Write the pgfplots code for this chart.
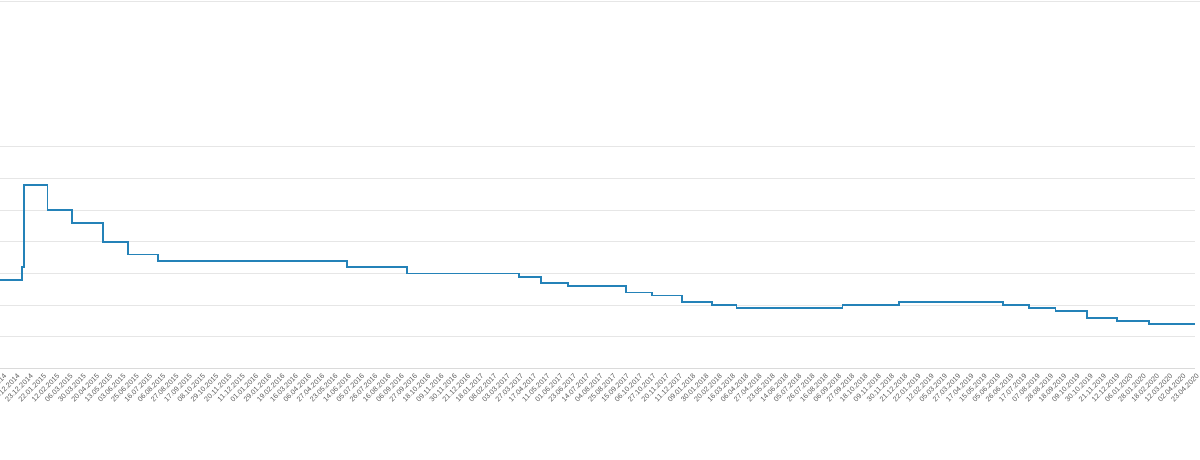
\documentclass[border=0pt]{standalone}
\usepackage{fontspec}
\setmainfont{Liberation Sans}
\usepackage{pgfplots}
\pgfplotsset{compat=1.18}
\usepackage{pgfplotstable}
\definecolor{linec}{RGB}{36,130,184}
\definecolor{gridc}{RGB}{230,230,230}
\definecolor{basec}{RGB}{218,218,218}
\definecolor{labc}{RGB}{90,90,90}
\pgfplotstableread{
x y
-3 9.5
22 10.5
24 17
51 15
79 14
114 12.5
142 11.5
176 11
390 10.5
458 10
585 9.75
610 9.25
640 9
706 8.5
735 8.25
769 7.75
803 7.5
831 7.25
951 7.5
1015 7.75
1133 7.5
1162 7.25
1192 7
1228 6.5
1262 6.25
1298 6
1350 6
}\ratedata
\begin{document}
\begin{tikzpicture}
\begin{axis}[
 at={(0pt,0pt)}, anchor=south west,
 scale only axis, width=1195pt, height=221.3pt,
 xmin=-2.8, xmax=1350, ymin=2.5, ymax=20,
 ytick={2.5,5,...,20}, yticklabels={},
 ymajorgrids, grid style={gridc, line width=1pt},
 xtick={0,15,...,1350},
 xticklabels={11.11.2014, 02.12.2014, 23.12.2014, 22.01.2015, 12.02.2015, 06.03.2015, 30.03.2015, 20.04.2015, 13.05.2015, 03.06.2015, 25.06.2015, 16.07.2015, 06.08.2015, 27.08.2015, 17.09.2015, 08.10.2015, 29.10.2015, 20.11.2015, 11.12.2015, 01.01.2016, 29.01.2016, 19.02.2016, 16.03.2016, 06.04.2016, 27.04.2016, 23.05.2016, 14.06.2016, 05.07.2016, 26.07.2016, 16.08.2016, 06.09.2016, 27.09.2016, 18.10.2016, 09.11.2016, 30.11.2016, 21.12.2016, 18.01.2017, 08.02.2017, 03.03.2017, 27.03.2017, 17.04.2017, 11.05.2017, 01.06.2017, 23.06.2017, 14.07.2017, 04.08.2017, 25.08.2017, 15.09.2017, 06.10.2017, 27.10.2017, 20.11.2017, 11.12.2017, 09.01.2018, 30.01.2018, 20.02.2018, 16.03.2018, 06.04.2018, 27.04.2018, 23.05.2018, 14.06.2018, 05.07.2018, 26.07.2018, 16.08.2018, 06.09.2018, 27.09.2018, 18.10.2018, 09.11.2018, 30.11.2018, 21.12.2018, 22.01.2019, 12.02.2019, 05.03.2019, 27.03.2019, 17.04.2019, 15.05.2019, 05.06.2019, 26.06.2019, 17.07.2019, 07.08.2019, 28.08.2019, 18.09.2019, 09.10.2019, 30.10.2019, 21.11.2019, 12.12.2019, 06.01.2020, 28.01.2020, 18.02.2020, 12.03.2020, 02.04.2020, 23.04.2020},
 major tick length=0pt,
 axis x line*=bottom, axis y line*=left,
 x axis line style={basec, line width=1pt, -},
 y axis line style={draw=none},
 xticklabel style={font=\fontsize{7.2}{8}\selectfont, text=labc, inner sep=0pt, anchor=north east, xshift=1pt, yshift=-5pt, rotate=45},
 clip=true,
]
\addplot[const plot, linec, line width=1.8pt] table[x=x,y=y]{\ratedata};
\end{axis}
\draw[gridc, line width=1.2pt] (0pt,367pt) -- (1200pt,367pt);
\pgfresetboundingbox
\useasboundingbox (0pt,-91.7pt) rectangle (1200pt,368.3pt);
\end{tikzpicture}
\end{document}
